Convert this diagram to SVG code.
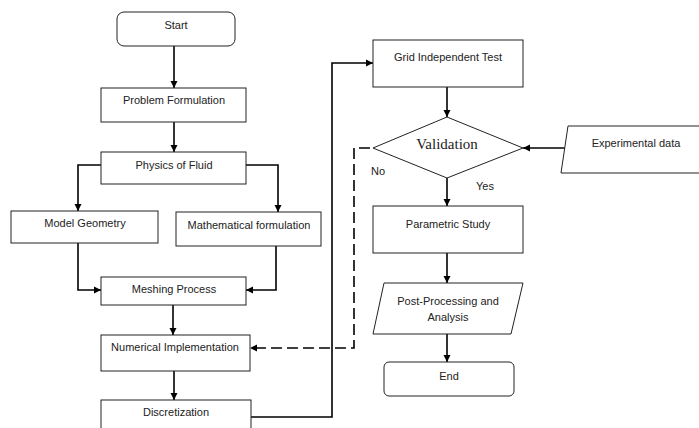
<svg xmlns="http://www.w3.org/2000/svg" width="699" height="428" viewBox="0 0 699 428">
<style>
.box{fill:#fff;stroke:#222;stroke-width:1}
.t{font-family:"Liberation Sans",Arial,sans-serif;font-size:11px;fill:#222;text-anchor:middle}
.ts{font-family:"Liberation Serif","Times New Roman",serif;font-size:15px;fill:#222;text-anchor:middle}
.c{fill:none;stroke:#000;stroke-width:1.6}
.d{fill:none;stroke:#000;stroke-width:1.6;stroke-dasharray:11 5}
</style>
<defs>
<marker id="ah" markerUnits="userSpaceOnUse" markerWidth="8" markerHeight="8" refX="7" refY="4" orient="auto">
<path d="M0,0.5 L7,4 L0,7.5 Z" fill="#000"/>
</marker>
</defs>
<rect width="699" height="428" fill="#fff"/>
<g id="connectors">
<path class="c" d="M174,46 V88" marker-end="url(#ah)"/>
<path class="c" d="M174,122 V152" marker-end="url(#ah)"/>
<path class="c" d="M101,165 H78 V211" marker-end="url(#ah)"/>
<path class="c" d="M246,165 H278 V212" marker-end="url(#ah)"/>
<path class="c" d="M78,243 V290 H101" marker-end="url(#ah)"/>
<path class="c" d="M276,246 V290 H246" marker-end="url(#ah)"/>
<path class="c" d="M173,305 V335" marker-end="url(#ah)"/>
<path class="c" d="M174,371 V400" marker-end="url(#ah)"/>
<path class="c" d="M251,417 H332 V63 H373" marker-end="url(#ah)"/>
<path class="c" d="M447,87 V117" marker-end="url(#ah)"/>
<path class="c" d="M565,148 H523" marker-end="url(#ah)"/>
<path class="c" d="M447,178 V206" marker-end="url(#ah)"/>
<path class="c" d="M447,253 V283" marker-end="url(#ah)"/>
<path class="c" d="M447,334 V362" marker-end="url(#ah)"/>
<path class="d" d="M370,148 H354 V348 H250" marker-end="url(#ah)"/>
<text class="t" x="378" y="175">No</text>
<text class="t" x="485" y="190">Yes</text>
</g>
<g id="start">
<rect class="box" x="117" y="12" width="118" height="34" rx="7"/>
<text class="t" x="176" y="29">Start</text>
</g>
<g id="problem">
<rect class="box" x="101" y="88" width="145" height="34"/>
<text class="t" x="174" y="104">Problem Formulation</text>
</g>
<g id="physics">
<rect class="box" x="101" y="152" width="145" height="32"/>
<text class="t" x="174" y="169">Physics of Fluid</text>
</g>
<g id="model">
<rect class="box" x="11" y="211" width="147" height="32"/>
<text class="t" x="85" y="227">Model Geometry</text>
</g>
<g id="math">
<rect class="box" x="176" y="212" width="145" height="34"/>
<text class="t" x="249" y="229">Mathematical formulation</text>
</g>
<g id="meshing">
<rect class="box" x="101" y="277" width="145" height="28"/>
<text class="t" x="174" y="293">Meshing Process</text>
</g>
<g id="numerical">
<rect class="box" x="101" y="335" width="149" height="36"/>
<text class="t" x="175" y="351">Numerical Implementation</text>
</g>
<g id="discretization">
<rect class="box" x="101" y="400" width="150" height="34"/>
<text class="t" x="176" y="416">Discretization</text>
</g>
<g id="grid">
<rect class="box" x="373" y="40" width="150" height="47"/>
<text class="t" x="448" y="61">Grid Independent Test</text>
</g>
<g id="validation">
<polygon class="box" points="447,117 523,148 447,178 373,148"/>
<text class="ts" x="447" y="149">Validation</text>
</g>
<g id="experimental">
<polygon class="box" points="568,126 705,126 705,173 561,173"/>
<text class="t" x="636" y="147">Experimental data</text>
</g>
<g id="parametric">
<rect class="box" x="373" y="206" width="150" height="47"/>
<text class="t" x="448" y="228">Parametric Study</text>
</g>
<g id="post">
<polygon class="box" points="384,283 523,283 511,334 373,334"/>
<text class="t" x="448" y="305">Post-Processing and</text>
<text class="t" x="448" y="321">Analysis</text>
</g>
<g id="end">
<rect class="box" x="384" y="362" width="130" height="34" rx="5"/>
<text class="t" x="449" y="380">End</text>
</g>
</svg>
